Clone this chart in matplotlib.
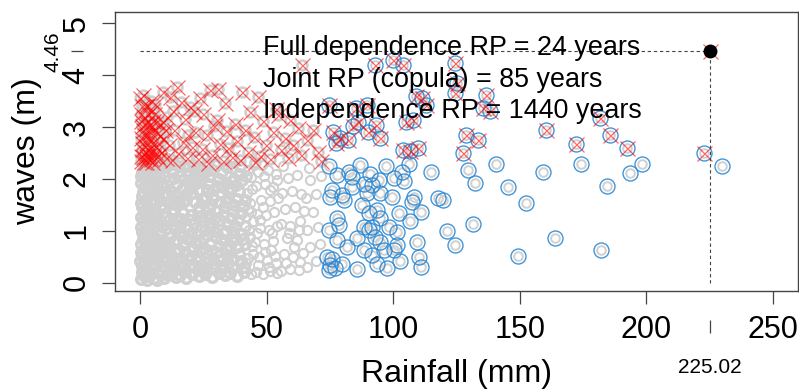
import matplotlib
matplotlib.use("Agg")
import matplotlib.pyplot as plt
import numpy as np

plt.rcParams['font.family'] = ['Liberation Sans', 'DejaVu Sans']

# ---------------- data ----------------
# grey-only points: rainfall < ~73 mm, waves < 2.3 m
grey_pts = [
 (0.3,0.08),(1.2,0.15),(0.6,0.32),(2.1,0.22),(3.4,0.12),(4.6,0.28),(0.9,0.51),(2.7,0.46),(4.1,0.58),(0.4,0.74),
 (1.8,0.69),(3.3,0.81),(4.8,0.77),(0.7,0.97),(2.4,1.02),(3.9,0.94),(1.3,1.18),(0.2,1.27),(2.9,1.22),(4.5,1.15),
 (1.6,1.39),(3.6,1.44),(0.5,1.53),(2.2,1.61),(4.2,1.58),(1.0,1.74),(3.0,1.79),(4.7,1.85),(0.3,1.93),(1.9,1.98),
 (3.7,2.03),(0.8,2.14),(2.6,2.19),(4.4,2.24),(1.4,2.27),(3.2,2.12),(0.1,0.42),(2.0,0.88),(4.9,1.34),(0.6,1.68),
 (5.4,0.10),(7.2,0.18),(9.6,0.09),(12.1,0.16),(14.3,0.11),(6.1,0.37),(8.5,0.33),(10.8,0.41),(13.2,0.35),(5.8,0.62),
 (7.9,0.57),(11.4,0.66),(13.9,0.60),(6.6,0.85),(9.2,0.80),(12.0,0.89),(14.6,0.83),(5.2,1.06),(8.1,1.10),(10.4,1.03),
 (13.0,1.12),(6.9,1.30),(9.8,1.27),(12.6,1.34),(14.8,1.25),(5.6,1.52),(8.4,1.49),(11.1,1.56),(13.7,1.51),(7.0,1.73),
 (9.5,1.70),(12.3,1.77),(14.1,1.69),(5.9,1.95),(8.8,1.92),(11.6,1.98),(13.4,2.02),(6.4,2.18),(10.1,2.22),(12.8,2.16),
 (7.6,2.26),(14.9,2.25),(9.0,0.50),(11.9,0.25),(6.3,1.18),(10.6,1.88),(8.0,0.96),(13.5,1.40),(7.3,2.05),(11.0,0.74),
 (15.6,0.14),(18.2,0.09),(20.7,0.17),(23.4,0.12),(16.8,0.38),(19.5,0.31),(22.1,0.43),(24.6,0.35),(15.3,0.63),(17.9,0.59),
 (21.0,0.67),(23.7,0.61),(16.4,0.88),(19.1,0.84),(22.5,0.91),(24.9,0.86),(15.9,1.12),(18.6,1.08),(21.4,1.15),(24.0,1.09),
 (17.1,1.35),(20.0,1.31),(22.8,1.38),(15.4,1.57),(18.3,1.60),(21.7,1.55),(24.4,1.62),(16.6,1.81),(19.8,1.84),(23.0,1.79),
 (15.8,2.05),(18.9,2.08),(22.2,2.03),(24.7,2.10),(17.4,2.24),(20.9,2.27),(23.8,2.21),(20.3,0.52),(17.2,0.22),(23.2,1.45),
 (19.4,1.96),(21.6,0.78),(16.2,1.22),(24.2,0.24),(18.0,1.70),
 (25.8,0.16),(28.4,0.11),(31.0,0.19),(33.6,0.14),(26.9,0.40),(29.7,0.36),(32.5,0.44),(34.8,0.38),(25.4,0.66),(28.1,0.62),
 (31.3,0.70),(34.0,0.64),(26.6,0.92),(29.9,0.88),(32.8,0.95),(25.2,1.18),(28.6,1.14),(31.7,1.20),(34.5,1.13),(27.3,1.42),
 (30.4,1.38),(33.3,1.45),(25.9,1.66),(29.0,1.63),(32.1,1.70),(34.9,1.66),(27.0,1.90),(30.6,1.87),(33.9,1.93),(25.6,2.13),
 (28.8,2.17),(31.9,2.11),(34.3,2.22),(26.2,2.27),(30.0,2.26),(29.3,0.26),(33.0,0.81),(27.7,1.05),(31.5,1.55),(26.4,1.78),
 (35.7,0.18),(38.5,0.13),(41.2,0.21),(43.9,0.16),(36.9,0.45),(39.8,0.41),(42.6,0.48),(35.4,0.71),(38.2,0.68),(41.5,0.75),
 (44.3,0.70),(36.6,0.98),(39.9,0.94),(43.1,1.01),(35.9,1.24),(38.8,1.21),(42.0,1.27),(44.7,1.19),(37.3,1.50),(40.6,1.47),
 (43.5,1.53),(35.6,1.74),(39.1,1.77),(42.4,1.72),(37.0,2.00),(40.3,1.97),(43.7,2.04),(36.2,2.21),(39.4,2.25),(42.8,2.18),
 (44.9,2.27),(40.9,0.30),(37.8,0.84),(44.0,1.36),(38.0,1.88),
 (45.8,0.20),(48.6,0.16),(51.3,0.23),(54.1,0.19),(46.9,0.49),(50.0,0.44),(53.2,0.52),(45.5,0.78),(48.9,0.74),(52.4,0.81),
 (47.3,1.06),(50.8,1.02),(54.3,1.09),(46.1,1.33),(49.6,1.30),(53.0,1.37),(47.8,1.60),(51.5,1.57),(54.6,1.64),(45.9,1.86),
 (49.2,1.90),(52.7,1.84),(46.7,2.13),(50.4,2.17),(53.8,2.10),(48.0,2.26),(51.9,0.63),(47.5,1.20),
 (55.8,0.22),(59.1,0.27),(62.7,0.24),(56.9,0.55),(60.6,0.50),(64.2,0.58),(58.0,0.86),(61.9,0.82),(55.5,1.14),(59.4,1.10),
 (63.3,1.18),(57.2,1.42),(61.1,1.46),(64.7,1.39),(55.9,1.72),(60.0,1.76),(63.6,1.70),(58.3,2.02),(62.2,2.07),(56.6,2.24),
 (65.8,0.31),(69.4,0.42),(67.2,0.68),(71.0,0.74),(66.1,1.02),(70.2,1.08),(68.3,1.36),(65.5,1.63),(69.7,1.70),(67.0,1.97),
 (71.5,2.05),(66.8,2.21),
 (0.9,0.20),(2.6,0.05),(1.7,0.40),(3.8,0.35),(0.2,0.60),(2.3,0.62),(4.3,0.45),(1.1,0.85),(3.0,0.98),(0.4,1.08),
 (2.0,1.30),(3.9,1.25),(0.9,1.45),(2.8,1.50),(4.6,1.70),(1.5,1.85),(3.4,1.92),(0.5,2.05),(2.3,2.08),(4.1,2.15),
 (6.8,0.05),(8.6,0.22),(10.9,0.15),(13.6,0.25),(6.0,0.50),(7.6,0.75),(10.2,0.62),(12.7,0.52),(14.4,0.45),(5.5,0.85),
 (8.8,0.68),(11.5,0.95),(13.4,0.80),(6.0,1.40),(7.7,1.20),(9.4,1.45),(11.8,1.22),(14.2,1.05),(7.9,1.60),(10.7,1.70),
 (12.9,1.62),(5.3,1.80),(9.9,2.05),(12.2,2.28),(14.5,1.90),(8.5,2.28),
 (16.0,0.28),(18.8,0.45),(21.3,0.30),(23.1,0.50),(17.4,0.72),(20.2,0.95),(22.9,0.72),(15.7,0.98),(19.6,1.20),(23.9,1.28),
 (16.9,1.55),(20.7,1.72),(22.3,1.92),(17.3,2.00),(21.3,2.18),(24.0,1.98),(19.4,2.25),
 (26.1,0.28),(28.9,0.48),(31.8,0.32),(34.2,0.52),(27.5,0.75),(30.2,0.60),(32.0,0.85),(25.8,1.02),(29.4,1.00),(33.8,1.00),
 (26.9,1.28),(29.8,1.25),(32.7,1.30),(28.2,1.52),(34.1,1.55),(29.0,1.78),(32.9,1.85),(27.4,2.05),(31.2,2.00),(34.7,1.80),
 (36.5,0.30),(39.0,0.55),(42.0,0.38),(44.6,0.55),(36.0,0.85),(40.8,0.85),(43.6,0.88),(37.4,1.10),(41.3,1.10),(36.8,1.38),
 (39.9,1.35),(42.7,1.42),(38.4,1.62),(41.6,1.60),(44.4,1.80),(36.2,1.95),(41.7,2.05),(38.9,2.10),
 (46.5,0.35),(50.9,0.30),(53.9,0.38),(49.3,0.60),(46.4,0.95),(52.2,0.95),(48.4,1.45),(51.2,1.78),(54.0,1.98),(49.0,2.05),
 (57.5,0.38),(61.0,0.68),(63.0,0.40),(59.0,0.95),(62.8,1.02),
]

# waves above threshold, rainfall below threshold (grey + red cross)
wave_pts = [
 (0.3,2.35),(1.1,2.42),(2.4,2.33),(3.6,2.47),(0.6,2.58),(1.9,2.64),(3.1,2.55),(4.4,2.38),(0.2,2.79),(1.5,2.85),
 (2.8,2.72),(4.0,2.90),(5.3,2.44),(6.2,2.61),(7.5,2.39),(0.8,3.02),(2.2,3.08),(3.5,2.98),(5.0,3.12),(6.7,2.88),
 (8.3,2.52),(9.1,2.76),(0.4,3.25),(1.7,3.20),(4.7,3.33),(7.9,3.05),(10.2,2.41),(11.4,2.66),(2.9,3.41),(0.1,3.55),
 (6.0,3.45),(9.2,3.68),(1.0,3.62),(11.8,3.58),(10.5,3.20),
 (0.5,2.45),(1.4,2.33),(2.0,2.52),(2.9,2.40),(3.9,2.60),(4.9,2.33),(0.8,2.70),(2.5,2.85),(3.4,2.78),(4.6,2.70),
 (5.8,2.52),(6.9,2.45),(1.2,2.95),(2.7,3.10),(4.1,3.05),(5.6,2.95),(7.2,2.70),(0.3,3.12),(3.3,3.25),(5.7,3.25),
 (8.0,2.85),(1.9,3.40),(4.2,3.50),(0.6,3.40),(8.9,3.10),(2.3,2.45),(9.7,2.95),(6.5,3.10),
 (12.8,2.36),(14.5,3.78),(13.6,2.95),(15.1,2.50),(16.9,2.72),(17.8,3.15),(19.7,3.39),(18.5,2.41),(20.6,2.62),(21.9,2.90),
 (23.7,3.55),(22.8,2.38),(25.0,3.26),(24.4,2.57),(26.3,2.84),(27.6,3.71),(28.5,2.46),(29.4,3.02),(30.3,3.13),(30.9,3.74),
 (31.7,2.68),(32.6,2.35),(33.5,3.46),(33.9,2.92),(13.2,3.30),(16.2,3.48),(26.9,2.31),(19.0,2.84),(21.4,3.31),(34.8,2.60),
 (36.2,2.42),(37.5,3.05),(38.4,2.73),(40.1,3.68),(39.6,2.36),(41.4,2.95),(42.8,2.52),(43.6,3.28),(44.9,2.80),(46.7,3.58),
 (47.4,2.44),(48.5,3.12),(49.8,2.66),(51.3,2.38),(52.6,2.90),(53.9,3.35),(54.6,3.23),(55.8,2.55),(57.1,2.78),(58.4,2.40),
 (59.2,3.13),(60.5,2.65),(62.3,2.98),(63.7,2.47),(64.1,4.19),(66.0,2.75),(68.4,2.94),(70.2,2.52),(71.6,2.35),(45.5,2.32),
]

# rainfall above threshold, waves below threshold (grey + blue circle)
rain_pts = [
 (74.5,2.25),(77.8,2.07),(82.4,2.14),(83.7,2.04),(87.0,2.27),(90.7,2.09),(88.3,1.91),(94.3,1.98),(97.3,2.24),(100.2,2.01),
 (103.5,2.14),(104.2,1.95),(106.1,2.28),(115.1,2.14),(75.8,1.79),(75.2,1.66),(79.8,1.69),(80.4,1.59),(83.7,1.85),(89.7,1.72),
 (91.6,1.88),(94.9,1.72),(99.5,1.66),(108.1,1.66),(107.5,1.56),(117.8,1.64),(119.7,1.59),(102.2,1.34),(110.8,1.37),(87.7,1.50),
 (90.3,1.34),(93.6,1.40),(94.9,1.24),(91.6,1.08),(77.8,1.24),(74.5,1.02),(78.5,1.11),(88.3,1.08),(90.3,1.02),(98.2,1.08),
 (101.5,0.98),(106.8,1.18),(77.8,0.82),(85.7,0.86),(93.0,0.89),(94.9,0.79),(96.3,0.63),(101.5,0.73),(109.4,0.79),(81.7,0.69),
 (88.3,0.63),(91.6,0.53),(73.8,0.50),(75.2,0.34),(77.1,0.28),(79.8,0.37),(85.7,0.26),(93.6,0.37),(97.6,0.28),(110.1,0.50),
 (110.8,0.31),(100.2,0.63),(102.5,0.41),(74.6,0.25),(76.0,0.45),
 (129.6,2.18),(132.3,1.93),(140.5,2.28),(145.2,1.85),(152.4,1.53),(159.2,2.14),(174.1,2.28),(184.5,1.86),(193.4,2.11),(198.1,2.29),
 (229.7,2.25),(131.6,1.13),(121.3,1.00),(124.4,0.73),(149.1,0.51),(164.1,0.86),(182.0,0.63),
]

# both above threshold (grey + blue circle + red cross)
both_pts = [
 (74.8,3.43),(76.3,2.91),(77.5,2.70),(79.0,2.78),(82.2,2.75),(84.2,3.01),(85.5,3.36),(86.0,3.10),(89.5,3.42),(90.1,2.91),
 (92.8,4.20),(93.4,3.04),(94.7,2.78),(100.0,4.29),(103.9,4.20),(103.9,2.56),(105.2,3.10),(106.6,2.53),(107.9,3.13),(109.2,3.59),
 (109.9,2.59),(111.2,3.55),(113.0,3.42),(124.3,4.23),(124.3,3.65),(125.0,3.84),(127.6,2.49),(128.9,2.84),(133.5,2.75),(136.8,3.62),
 (135.5,3.36),(138.1,3.30),(160.5,2.94),(172.3,2.68),(181.6,3.17),(185.5,2.85),(192.4,2.59),(222.7,2.49),
]

design_rain = 225.02
design_wave = 4.46
annot_lines = ["Full dependence RP = 24 years",
               "Joint RP (copula) = 85 years",
               "Independence RP = 1440 years"]
annot_y = [4.39, 3.77, 3.17]
annot_x = 48.6

x_ticks = [0, 50, 100, 150, 200, 250]
y_ticks = [0, 1, 2, 3, 4, 5]

# ---------------- figure ----------------
W, H = 799, 390
fig = plt.figure(figsize=(W/100, H/100), dpi=100)
ax = fig.add_axes([114.7/W, 1-290.7/H, (798.3-114.7)/W, (290.7-12.3)/H])
ax.set_xlim(-10, 260)
ax.set_ylim(-0.154, 5.21)

def xy(pts):
    a = np.array(pts)
    return a[:, 0], a[:, 1]

gx, gy = xy(grey_pts)
wx, wy = xy(wave_pts)
rx, ry = xy(rain_pts)
bx, by = xy(both_pts)

grey = '#D0D0D0'
# all observations as grey rings; the dense core drawn with heavier rings
core = gx < 42
ax.plot(gx[core], gy[core], 'o', ms=7.0, mfc='none', mec=grey, mew=2.4, zorder=2)
ax.plot(gx[~core], gy[~core], 'o', ms=6.6, mfc='none', mec=grey, mew=1.5, zorder=2)
ax.plot(wx, wy, 'o', ms=7.0, mfc='none', mec=grey, mew=2.0, zorder=2)
for (px, py) in [(rx, ry), (bx, by)]:
    ax.plot(px, py, 'o', ms=6.2, mfc='none', mec=grey, mew=1.4, zorder=2)

# rainfall exceedances: blue rings
for (px, py) in [(rx, ry), (bx, by)]:
    ax.plot(px, py, 'o', ms=10.8, mfc='none', mec='#2E8AD4', mew=1.0, alpha=0.9, zorder=3)

# wave exceedances: red crosses
for (px, py) in [(wx, wy), (bx, by)]:
    ax.plot(px, py, 'x', ms=10.8, mec='#FF0000', mew=0.9, alpha=0.6, zorder=4)
ax.plot([design_rain], [design_wave], 'x', ms=10.8, mec='#FF0000', mew=0.9, alpha=0.6, zorder=4)

# design point with dashed guides
ax.plot([0, design_rain], [design_wave, design_wave], ls=(0, (3, 2.5)), color='#444444', lw=0.8, zorder=5)
ax.plot([design_rain, design_rain], [0, design_wave], ls=(0, (3, 2.5)), color='#444444', lw=0.8, zorder=5)
ax.plot([design_rain], [design_wave], 'o', ms=9, color='black', zorder=6)

for t, yy in zip(annot_lines, annot_y):
    ax.text(annot_x, yy, t, fontsize=19.4, ha='left', va='baseline', color='black', zorder=7)

# axes styling
for s in ax.spines.values():
    s.set_color('#444444')
    s.set_linewidth(1.0)
ax.set_xticks(x_ticks)
ax.set_xticklabels([str(v) for v in x_ticks])
ax.set_yticks(y_ticks)
ax.set_yticklabels([str(v) for v in y_ticks], rotation=90, va='center')
ax.tick_params(axis='both', direction='out', length=9.1, width=0.9, color='#444444', labelsize=22)
ax.tick_params(axis='x', pad=8.5)
ax.tick_params(axis='y', pad=7.5)
ax.set_xlabel('Rainfall (mm)', fontsize=23)
ax.set_ylabel('waves (m)', fontsize=23)
ax.xaxis.set_label_coords(0.5, -(374 - 290.7) / 278.4)
ax.xaxis.label.set_va('center')
ax.yaxis.set_label_coords(-(114.7 - 27) / 683.6, 0.5)
ax.yaxis.label.set_va('center')

# secondary axes for the design-value marks
sx = ax.secondary_xaxis(-29.3 / 278.4)
sx.set_xticks([design_rain])
sx.set_xticklabels([f"{design_rain:.2f}"])
sx.tick_params(direction='out', length=9.1, width=0.9, color='#444444', labelsize=15, pad=18)
sx.spines['bottom'].set_visible(False)

sy = ax.secondary_yaxis(-31.4 / 683.6)
sy.set_yticks([design_wave])
sy.set_yticklabels([f"{design_wave:.2f}"], rotation=90, va='center')
sy.tick_params(direction='out', length=8.4, width=0.9, color='#444444', labelsize=15, pad=6.5)
sy.spines['left'].set_visible(False)

fig.savefig('out.png', dpi=100)
